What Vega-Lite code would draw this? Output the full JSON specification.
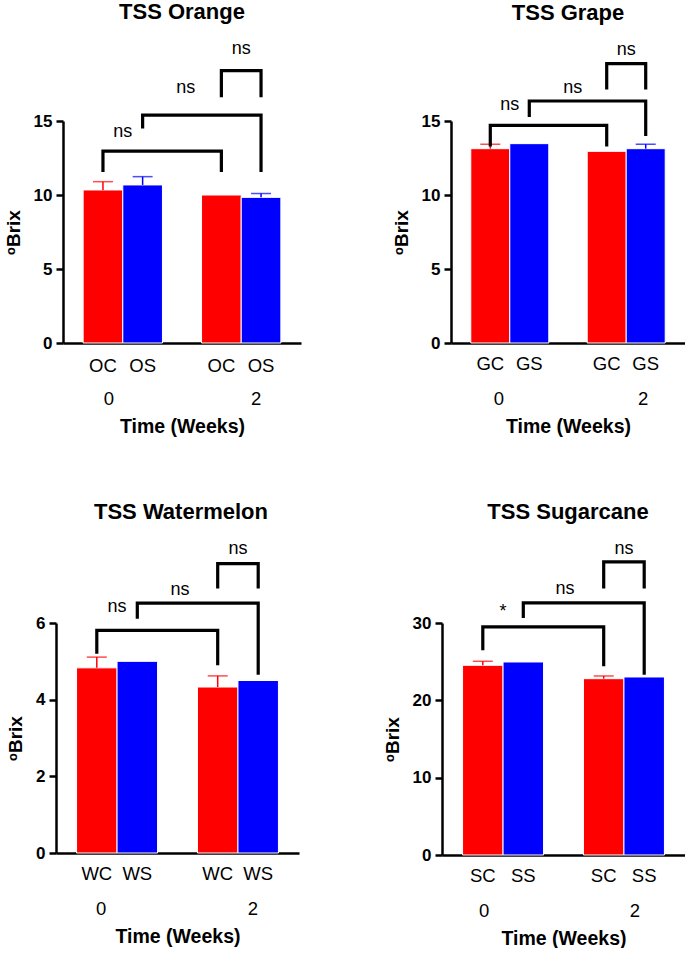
{
  "$schema": "https://vega.github.io/schema/vega-lite/v6.json",
  "padding": {"left": 4, "top": 1, "right": 0, "bottom": 0},
  "datasets": {
    "bars": [
      {"fruit": "Orange", "time": "0", "grp": "C", "lab": "OC", "mean": 10.34, "hi": 10.9},
      {"fruit": "Orange", "time": "0", "grp": "S", "lab": "OS", "mean": 10.68, "hi": 11.24},
      {"fruit": "Orange", "time": "2", "grp": "C", "lab": "OC", "mean": 10.0, "hi": null},
      {"fruit": "Orange", "time": "2", "grp": "S", "lab": "OS", "mean": 9.84, "hi": 10.1},
      {"fruit": "Grape", "time": "0", "grp": "C", "lab": "GC", "mean": 13.13, "hi": 13.43},
      {"fruit": "Grape", "time": "0", "grp": "S", "lab": "GS", "mean": 13.47, "hi": null},
      {"fruit": "Grape", "time": "2", "grp": "C", "lab": "GC", "mean": 12.95, "hi": null},
      {"fruit": "Grape", "time": "2", "grp": "S", "lab": "GS", "mean": 13.13, "hi": 13.43},
      {"fruit": "Watermelon", "time": "0", "grp": "C", "lab": "WC", "mean": 4.83, "hi": 5.11},
      {"fruit": "Watermelon", "time": "0", "grp": "S", "lab": "WS", "mean": 5.0, "hi": null},
      {"fruit": "Watermelon", "time": "2", "grp": "C", "lab": "WC", "mean": 4.33, "hi": 4.62},
      {"fruit": "Watermelon", "time": "2", "grp": "S", "lab": "WS", "mean": 4.5, "hi": null},
      {"fruit": "Sugarcane", "time": "0", "grp": "C", "lab": "SC", "mean": 24.53, "hi": 25.05},
      {"fruit": "Sugarcane", "time": "0", "grp": "S", "lab": "SS", "mean": 24.96, "hi": null},
      {"fruit": "Sugarcane", "time": "2", "grp": "C", "lab": "SC", "mean": 22.8, "hi": 23.15},
      {"fruit": "Sugarcane", "time": "2", "grp": "S", "lab": "SS", "mean": 23.02, "hi": null}
    ],
    "brackets": [
      {"fruit": "Orange", "b": 1, "seq": 1, "time": "0", "grp": "C", "v": 11.55},
      {"fruit": "Orange", "b": 1, "seq": 2, "time": "0", "grp": "C", "v": 12.97},
      {"fruit": "Orange", "b": 1, "seq": 3, "time": "2", "grp": "C", "v": 12.97},
      {"fruit": "Orange", "b": 1, "seq": 4, "time": "2", "grp": "C", "v": 11.55},
      {"fruit": "Orange", "b": 2, "seq": 1, "time": "0", "grp": "S", "v": 14.5},
      {"fruit": "Orange", "b": 2, "seq": 2, "time": "0", "grp": "S", "v": 15.4},
      {"fruit": "Orange", "b": 2, "seq": 3, "time": "2", "grp": "S", "v": 15.4},
      {"fruit": "Orange", "b": 2, "seq": 4, "time": "2", "grp": "S", "v": 11.55},
      {"fruit": "Orange", "b": 3, "seq": 1, "time": "2", "grp": "C", "v": 16.6},
      {"fruit": "Orange", "b": 3, "seq": 2, "time": "2", "grp": "C", "v": 18.4},
      {"fruit": "Orange", "b": 3, "seq": 3, "time": "2", "grp": "S", "v": 18.4},
      {"fruit": "Orange", "b": 3, "seq": 4, "time": "2", "grp": "S", "v": 16.6},
      {"fruit": "Grape", "b": 1, "seq": 1, "time": "0", "grp": "C", "v": 13.27},
      {"fruit": "Grape", "b": 1, "seq": 2, "time": "0", "grp": "C", "v": 14.7},
      {"fruit": "Grape", "b": 1, "seq": 3, "time": "2", "grp": "C", "v": 14.7},
      {"fruit": "Grape", "b": 1, "seq": 4, "time": "2", "grp": "C", "v": 13.27},
      {"fruit": "Grape", "b": 2, "seq": 1, "time": "0", "grp": "S", "v": 15.27},
      {"fruit": "Grape", "b": 2, "seq": 2, "time": "0", "grp": "S", "v": 16.35},
      {"fruit": "Grape", "b": 2, "seq": 3, "time": "2", "grp": "S", "v": 16.35},
      {"fruit": "Grape", "b": 2, "seq": 4, "time": "2", "grp": "S", "v": 13.99},
      {"fruit": "Grape", "b": 3, "seq": 1, "time": "2", "grp": "C", "v": 17.13},
      {"fruit": "Grape", "b": 3, "seq": 2, "time": "2", "grp": "C", "v": 18.87},
      {"fruit": "Grape", "b": 3, "seq": 3, "time": "2", "grp": "S", "v": 18.87},
      {"fruit": "Grape", "b": 3, "seq": 4, "time": "2", "grp": "S", "v": 17.13},
      {"fruit": "Watermelon", "b": 1, "seq": 1, "time": "0", "grp": "C", "v": 5.2},
      {"fruit": "Watermelon", "b": 1, "seq": 2, "time": "0", "grp": "C", "v": 5.81},
      {"fruit": "Watermelon", "b": 1, "seq": 3, "time": "2", "grp": "C", "v": 5.81},
      {"fruit": "Watermelon", "b": 1, "seq": 4, "time": "2", "grp": "C", "v": 4.9},
      {"fruit": "Watermelon", "b": 2, "seq": 1, "time": "0", "grp": "S", "v": 6.11},
      {"fruit": "Watermelon", "b": 2, "seq": 2, "time": "0", "grp": "S", "v": 6.52},
      {"fruit": "Watermelon", "b": 2, "seq": 3, "time": "2", "grp": "S", "v": 6.52},
      {"fruit": "Watermelon", "b": 2, "seq": 4, "time": "2", "grp": "S", "v": 4.65},
      {"fruit": "Watermelon", "b": 3, "seq": 1, "time": "2", "grp": "C", "v": 6.9},
      {"fruit": "Watermelon", "b": 3, "seq": 2, "time": "2", "grp": "C", "v": 7.55},
      {"fruit": "Watermelon", "b": 3, "seq": 3, "time": "2", "grp": "S", "v": 7.55},
      {"fruit": "Watermelon", "b": 3, "seq": 4, "time": "2", "grp": "S", "v": 6.9},
      {"fruit": "Sugarcane", "b": 1, "seq": 1, "time": "0", "grp": "C", "v": 26.47},
      {"fruit": "Sugarcane", "b": 1, "seq": 2, "time": "0", "grp": "C", "v": 29.5},
      {"fruit": "Sugarcane", "b": 1, "seq": 3, "time": "2", "grp": "C", "v": 29.5},
      {"fruit": "Sugarcane", "b": 1, "seq": 4, "time": "2", "grp": "C", "v": 24.4},
      {"fruit": "Sugarcane", "b": 2, "seq": 1, "time": "0", "grp": "S", "v": 30.66},
      {"fruit": "Sugarcane", "b": 2, "seq": 2, "time": "0", "grp": "S", "v": 32.6},
      {"fruit": "Sugarcane", "b": 2, "seq": 3, "time": "2", "grp": "S", "v": 32.6},
      {"fruit": "Sugarcane", "b": 2, "seq": 4, "time": "2", "grp": "S", "v": 23.3},
      {"fruit": "Sugarcane", "b": 3, "seq": 1, "time": "2", "grp": "C", "v": 34.46},
      {"fruit": "Sugarcane", "b": 3, "seq": 2, "time": "2", "grp": "C", "v": 37.9},
      {"fruit": "Sugarcane", "b": 3, "seq": 3, "time": "2", "grp": "S", "v": 37.9},
      {"fruit": "Sugarcane", "b": 3, "seq": 4, "time": "2", "grp": "S", "v": 34.46}
    ],
    "sig": [
      {"fruit": "Orange", "pos": "side", "time": "0", "v": 14.26, "t": "ns"},
      {"fruit": "Orange", "pos": "mid", "time": "0", "v": 17.2, "t": "ns"},
      {"fruit": "Orange", "pos": "side", "time": "2", "v": 19.86, "t": "ns"},
      {"fruit": "Grape", "pos": "side", "time": "0", "v": 16.08, "t": "ns"},
      {"fruit": "Grape", "pos": "mid", "time": "0", "v": 17.2, "t": "ns"},
      {"fruit": "Grape", "pos": "side", "time": "2", "v": 19.8, "t": "ns"},
      {"fruit": "Watermelon", "pos": "side", "time": "0", "v": 6.42, "t": "ns"},
      {"fruit": "Watermelon", "pos": "mid", "time": "0", "v": 6.87, "t": "ns"},
      {"fruit": "Watermelon", "pos": "side", "time": "2", "v": 7.92, "t": "ns"},
      {"fruit": "Sugarcane", "pos": "side", "time": "0", "v": 31.4, "t": "*"},
      {"fruit": "Sugarcane", "pos": "mid", "time": "0", "v": 34.46, "t": "ns"},
      {"fruit": "Sugarcane", "pos": "side", "time": "2", "v": 39.6, "t": "ns"}
    ]
  },
  "resolve": {"scale": {"x": "independent", "y": "independent", "xOffset": "independent"}},
  "columns": 2,
  "spacing": {"row": 64, "column": 77},
  "concat": [
        {
          "width": 238, "height": 222,
          "title": "TSS Orange",
          "layer": [
            {"data": {"name": "bars"}, "transform": [{"filter": "datum.fruit == 'Orange'"}],
             "mark": {"type": "bar", "stroke": "white", "strokeWidth": 1},
             "encoding": {
               "x": {"field": "time", "type": "nominal", "scale": {"domain": ["0", "2"], "paddingInner": 0.33, "paddingOuter": 0.17},
                     "axis": {"title": "Time (Weeks)", "labelOffset": {"condition": {"test": "datum.value == '0'", "value": -14}, "value": 15}}},
               "xOffset": {"field": "grp", "type": "nominal", "scale": {"domain": ["C", "S"], "paddingInner": 0, "paddingOuter": 0}},
               "y": {"field": "mean", "type": "quantitative", "scale": {"domain": [0, 15], "nice": false}, "axis": {"values": [0, 5, 10, 15], "title": "ᵒBrix"}},
               "color": {"field": "grp", "type": "nominal", "scale": {"domain": ["C", "S"], "range": ["#ff0000", "#0000ff"]}, "legend": null}
             }},
            {"data": {"name": "bars"}, "transform": [{"filter": "datum.fruit == 'Orange' && isValid(datum.hi)"}],
             "mark": {"type": "rule", "strokeWidth": 1.5},
             "encoding": {"x": {"field": "time", "type": "nominal"}, "xOffset": {"field": "grp", "type": "nominal"}, "y": {"field": "mean", "type": "quantitative"}, "y2": {"field": "hi"}, "color": {"field": "grp", "type": "nominal"}}},
            {"data": {"name": "bars"}, "transform": [{"filter": "datum.fruit == 'Orange' && isValid(datum.hi)"}],
             "mark": {"type": "tick", "size": 20, "thickness": 1.5, "orient": "horizontal"},
             "encoding": {"x": {"field": "time", "type": "nominal"}, "xOffset": {"field": "grp", "type": "nominal"}, "y": {"field": "hi", "type": "quantitative"}, "color": {"field": "grp", "type": "nominal"}}},
            {"data": {"name": "brackets"}, "transform": [{"filter": "datum.fruit == 'Orange'"}],
             "mark": {"type": "line", "color": "black", "strokeWidth": 3.2, "strokeJoin": "miter", "strokeCap": "butt"},
             "encoding": {"x": {"field": "time", "type": "nominal"}, "xOffset": {"field": "grp", "type": "nominal"}, "y": {"field": "v", "type": "quantitative"}, "detail": {"field": "b"}, "order": {"field": "seq", "type": "quantitative"}}},
            {"data": {"name": "bars"}, "transform": [{"filter": "datum.fruit == 'Orange'"}],
             "mark": {"type": "text", "dy": 23, "fontSize": 18.5, "baseline": "middle", "color": "black"},
             "encoding": {"x": {"field": "time", "type": "nominal"}, "xOffset": {"field": "grp", "type": "nominal"}, "y": {"datum": 0}, "text": {"field": "lab"}}},
            {"data": {"name": "sig"}, "transform": [{"filter": "datum.fruit == 'Orange' && datum.pos == 'side'"}],
             "mark": {"type": "text", "fontSize": 18, "baseline": "middle", "color": "black"},
             "encoding": {"x": {"field": "time", "type": "nominal"}, "y": {"field": "v", "type": "quantitative"}, "text": {"field": "t"}}},
            {"data": {"name": "sig"}, "transform": [{"filter": "datum.fruit == 'Orange' && datum.pos == 'mid'"}],
             "mark": {"type": "text", "fontSize": 18, "baseline": "middle", "color": "black", "dx": 63},
             "encoding": {"x": {"field": "time", "type": "nominal"}, "y": {"field": "v", "type": "quantitative"}, "text": {"field": "t"}}}
          ]
        },
        {
          "width": 234, "height": 222,
          "title": "TSS Grape",
          "layer": [
            {"data": {"name": "bars"}, "transform": [{"filter": "datum.fruit == 'Grape'"}],
             "mark": {"type": "bar", "stroke": "white", "strokeWidth": 1},
             "encoding": {
               "x": {"field": "time", "type": "nominal", "scale": {"domain": ["0", "2"], "paddingInner": 0.33, "paddingOuter": 0.17},
                     "axis": {"title": "Time (Weeks)", "labelOffset": {"condition": {"test": "datum.value == '0'", "value": -11}, "value": 17}}},
               "xOffset": {"field": "grp", "type": "nominal", "scale": {"domain": ["C", "S"], "paddingInner": 0, "paddingOuter": 0}},
               "y": {"field": "mean", "type": "quantitative", "scale": {"domain": [0, 15], "nice": false}, "axis": {"values": [0, 5, 10, 15], "title": "ᵒBrix"}},
               "color": {"field": "grp", "type": "nominal", "scale": {"domain": ["C", "S"], "range": ["#ff0000", "#0000ff"]}, "legend": null}
             }},
            {"data": {"name": "bars"}, "transform": [{"filter": "datum.fruit == 'Grape' && isValid(datum.hi)"}],
             "mark": {"type": "rule", "strokeWidth": 1.5},
             "encoding": {"x": {"field": "time", "type": "nominal"}, "xOffset": {"field": "grp", "type": "nominal"}, "y": {"field": "mean", "type": "quantitative"}, "y2": {"field": "hi"}, "color": {"field": "grp", "type": "nominal"}}},
            {"data": {"name": "bars"}, "transform": [{"filter": "datum.fruit == 'Grape' && isValid(datum.hi)"}],
             "mark": {"type": "tick", "size": 20, "thickness": 1.5, "orient": "horizontal"},
             "encoding": {"x": {"field": "time", "type": "nominal"}, "xOffset": {"field": "grp", "type": "nominal"}, "y": {"field": "hi", "type": "quantitative"}, "color": {"field": "grp", "type": "nominal"}}},
            {"data": {"name": "brackets"}, "transform": [{"filter": "datum.fruit == 'Grape'"}],
             "mark": {"type": "line", "color": "black", "strokeWidth": 3.2, "strokeJoin": "miter", "strokeCap": "butt"},
             "encoding": {"x": {"field": "time", "type": "nominal"}, "xOffset": {"field": "grp", "type": "nominal"}, "y": {"field": "v", "type": "quantitative"}, "detail": {"field": "b"}, "order": {"field": "seq", "type": "quantitative"}}},
            {"data": {"name": "bars"}, "transform": [{"filter": "datum.fruit == 'Grape'"}],
             "mark": {"type": "text", "dy": 21, "fontSize": 18.5, "baseline": "middle", "color": "black"},
             "encoding": {"x": {"field": "time", "type": "nominal"}, "xOffset": {"field": "grp", "type": "nominal"}, "y": {"datum": 0}, "text": {"field": "lab"}}},
            {"data": {"name": "sig"}, "transform": [{"filter": "datum.fruit == 'Grape' && datum.pos == 'side'"}],
             "mark": {"type": "text", "fontSize": 18, "baseline": "middle", "color": "black"},
             "encoding": {"x": {"field": "time", "type": "nominal"}, "y": {"field": "v", "type": "quantitative"}, "text": {"field": "t"}}},
            {"data": {"name": "sig"}, "transform": [{"filter": "datum.fruit == 'Grape' && datum.pos == 'mid'"}],
             "mark": {"type": "text", "fontSize": 18, "baseline": "middle", "color": "black", "dx": 63},
             "encoding": {"x": {"field": "time", "type": "nominal"}, "y": {"field": "v", "type": "quantitative"}, "text": {"field": "t"}}}
          ]
        },
        {
          "width": 236, "height": 230,
          "title": "TSS Watermelon",
          "layer": [
            {"data": {"name": "bars"}, "transform": [{"filter": "datum.fruit == 'Watermelon'"}],
             "mark": {"type": "bar", "stroke": "white", "strokeWidth": 1},
             "encoding": {
               "x": {"field": "time", "type": "nominal", "scale": {"domain": ["0", "2"], "range": [-7, 236], "paddingInner": 0.33, "paddingOuter": 0.17},
                     "axis": {"title": "Time (Weeks)", "labelOffset": {"condition": {"test": "datum.value == '0'", "value": -16}, "value": 15}}},
               "xOffset": {"field": "grp", "type": "nominal", "scale": {"domain": ["C", "S"], "paddingInner": 0, "paddingOuter": 0}},
               "y": {"field": "mean", "type": "quantitative", "scale": {"domain": [0, 6], "nice": false}, "axis": {"values": [0, 2, 4, 6], "title": "ᵒBrix", "offset": 7}},
               "color": {"field": "grp", "type": "nominal", "scale": {"domain": ["C", "S"], "range": ["#ff0000", "#0000ff"]}, "legend": null}
             }},
            {"data": {"name": "bars"}, "transform": [{"filter": "datum.fruit == 'Watermelon' && isValid(datum.hi)"}],
             "mark": {"type": "rule", "strokeWidth": 1.5},
             "encoding": {"x": {"field": "time", "type": "nominal"}, "xOffset": {"field": "grp", "type": "nominal"}, "y": {"field": "mean", "type": "quantitative"}, "y2": {"field": "hi"}, "color": {"field": "grp", "type": "nominal"}}},
            {"data": {"name": "bars"}, "transform": [{"filter": "datum.fruit == 'Watermelon' && isValid(datum.hi)"}],
             "mark": {"type": "tick", "size": 20, "thickness": 1.5, "orient": "horizontal"},
             "encoding": {"x": {"field": "time", "type": "nominal"}, "xOffset": {"field": "grp", "type": "nominal"}, "y": {"field": "hi", "type": "quantitative"}, "color": {"field": "grp", "type": "nominal"}}},
            {"data": {"name": "brackets"}, "transform": [{"filter": "datum.fruit == 'Watermelon'"}],
             "mark": {"type": "line", "color": "black", "strokeWidth": 3.2, "strokeJoin": "miter", "strokeCap": "butt"},
             "encoding": {"x": {"field": "time", "type": "nominal"}, "xOffset": {"field": "grp", "type": "nominal"}, "y": {"field": "v", "type": "quantitative"}, "detail": {"field": "b"}, "order": {"field": "seq", "type": "quantitative"}}},
            {"data": {"name": "bars"}, "transform": [{"filter": "datum.fruit == 'Watermelon'"}],
             "mark": {"type": "text", "dy": 21, "fontSize": 18.5, "baseline": "middle", "color": "black"},
             "encoding": {"x": {"field": "time", "type": "nominal"}, "xOffset": {"field": "grp", "type": "nominal"}, "y": {"datum": 0}, "text": {"field": "lab"}}},
            {"data": {"name": "sig"}, "transform": [{"filter": "datum.fruit == 'Watermelon' && datum.pos == 'side'"}],
             "mark": {"type": "text", "fontSize": 18, "baseline": "middle", "color": "black"},
             "encoding": {"x": {"field": "time", "type": "nominal"}, "y": {"field": "v", "type": "quantitative"}, "text": {"field": "t"}}},
            {"data": {"name": "sig"}, "transform": [{"filter": "datum.fruit == 'Watermelon' && datum.pos == 'mid'"}],
             "mark": {"type": "text", "fontSize": 18, "baseline": "middle", "color": "black", "dx": 63},
             "encoding": {"x": {"field": "time", "type": "nominal"}, "y": {"field": "v", "type": "quantitative"}, "text": {"field": "t"}}}
          ]
        },
        {
          "width": 234, "height": 232,
          "title": "TSS Sugarcane",
          "layer": [
            {"data": {"name": "bars"}, "transform": [{"filter": "datum.fruit == 'Sugarcane'"}],
             "mark": {"type": "bar", "stroke": "white", "strokeWidth": 1},
             "encoding": {
               "x": {"field": "time", "type": "nominal", "scale": {"domain": ["0", "2"], "range": [-9, 234], "paddingInner": 0.33, "paddingOuter": 0.17},
                     "axis": {"title": "Time (Weeks)", "labelOffset": {"condition": {"test": "datum.value == '0'", "value": -19}, "value": 11}}},
               "xOffset": {"field": "grp", "type": "nominal", "scale": {"domain": ["C", "S"], "paddingInner": 0, "paddingOuter": 0}},
               "y": {"field": "mean", "type": "quantitative", "scale": {"domain": [0, 30], "nice": false}, "axis": {"values": [0, 10, 20, 30], "title": "ᵒBrix", "offset": 9}},
               "color": {"field": "grp", "type": "nominal", "scale": {"domain": ["C", "S"], "range": ["#ff0000", "#0000ff"]}, "legend": null}
             }},
            {"data": {"name": "bars"}, "transform": [{"filter": "datum.fruit == 'Sugarcane' && isValid(datum.hi)"}],
             "mark": {"type": "rule", "strokeWidth": 1.5},
             "encoding": {"x": {"field": "time", "type": "nominal"}, "xOffset": {"field": "grp", "type": "nominal"}, "y": {"field": "mean", "type": "quantitative"}, "y2": {"field": "hi"}, "color": {"field": "grp", "type": "nominal"}}},
            {"data": {"name": "bars"}, "transform": [{"filter": "datum.fruit == 'Sugarcane' && isValid(datum.hi)"}],
             "mark": {"type": "tick", "size": 20, "thickness": 1.5, "orient": "horizontal"},
             "encoding": {"x": {"field": "time", "type": "nominal"}, "xOffset": {"field": "grp", "type": "nominal"}, "y": {"field": "hi", "type": "quantitative"}, "color": {"field": "grp", "type": "nominal"}}},
            {"data": {"name": "brackets"}, "transform": [{"filter": "datum.fruit == 'Sugarcane'"}],
             "mark": {"type": "line", "color": "black", "strokeWidth": 3.2, "strokeJoin": "miter", "strokeCap": "butt"},
             "encoding": {"x": {"field": "time", "type": "nominal"}, "xOffset": {"field": "grp", "type": "nominal"}, "y": {"field": "v", "type": "quantitative"}, "detail": {"field": "b"}, "order": {"field": "seq", "type": "quantitative"}}},
            {"data": {"name": "bars"}, "transform": [{"filter": "datum.fruit == 'Sugarcane'"}],
             "mark": {"type": "text", "dy": 21, "fontSize": 18.5, "baseline": "middle", "color": "black"},
             "encoding": {"x": {"field": "time", "type": "nominal"}, "xOffset": {"field": "grp", "type": "nominal"}, "y": {"datum": 0}, "text": {"field": "lab"}}},
            {"data": {"name": "sig"}, "transform": [{"filter": "datum.fruit == 'Sugarcane' && datum.pos == 'side'"}],
             "mark": {"type": "text", "fontSize": 18, "baseline": "middle", "color": "black"},
             "encoding": {"x": {"field": "time", "type": "nominal"}, "y": {"field": "v", "type": "quantitative"}, "text": {"field": "t"}}},
            {"data": {"name": "sig"}, "transform": [{"filter": "datum.fruit == 'Sugarcane' && datum.pos == 'mid'"}],
             "mark": {"type": "text", "fontSize": 18, "baseline": "middle", "color": "black", "dx": 62},
             "encoding": {"x": {"field": "time", "type": "nominal"}, "y": {"field": "v", "type": "quantitative"}, "text": {"field": "t"}}}
          ]
        }
  ],
  "config": {
    "font": "Liberation Sans",
    "view": {"stroke": null},
    "title": {"fontSize": 22, "fontWeight": "bold", "color": "black", "offset": 16, "frame": "group", "anchor": "middle"},
    "axisX": {"labelAngle": 0, "labelFontSize": 18.5, "labelFontWeight": "normal", "labelPadding": 46, "ticks": false, "domainWidth": 2.5, "domainColor": "black", "titleFontSize": 19.5, "titleFontWeight": "bold", "titlePadding": 10, "labelColor": "black", "titleColor": "black", "grid": false},
    "axisY": {"labelFontSize": 17, "labelFontWeight": "bold", "labelPadding": 4, "tickSize": 7, "tickWidth": 2.5, "tickColor": "black", "domainWidth": 2.5, "domainColor": "black", "titleFontSize": 19, "titleFontWeight": "bold", "titlePadding": 10, "grid": false, "labelColor": "black", "titleColor": "black"}
  }
}
